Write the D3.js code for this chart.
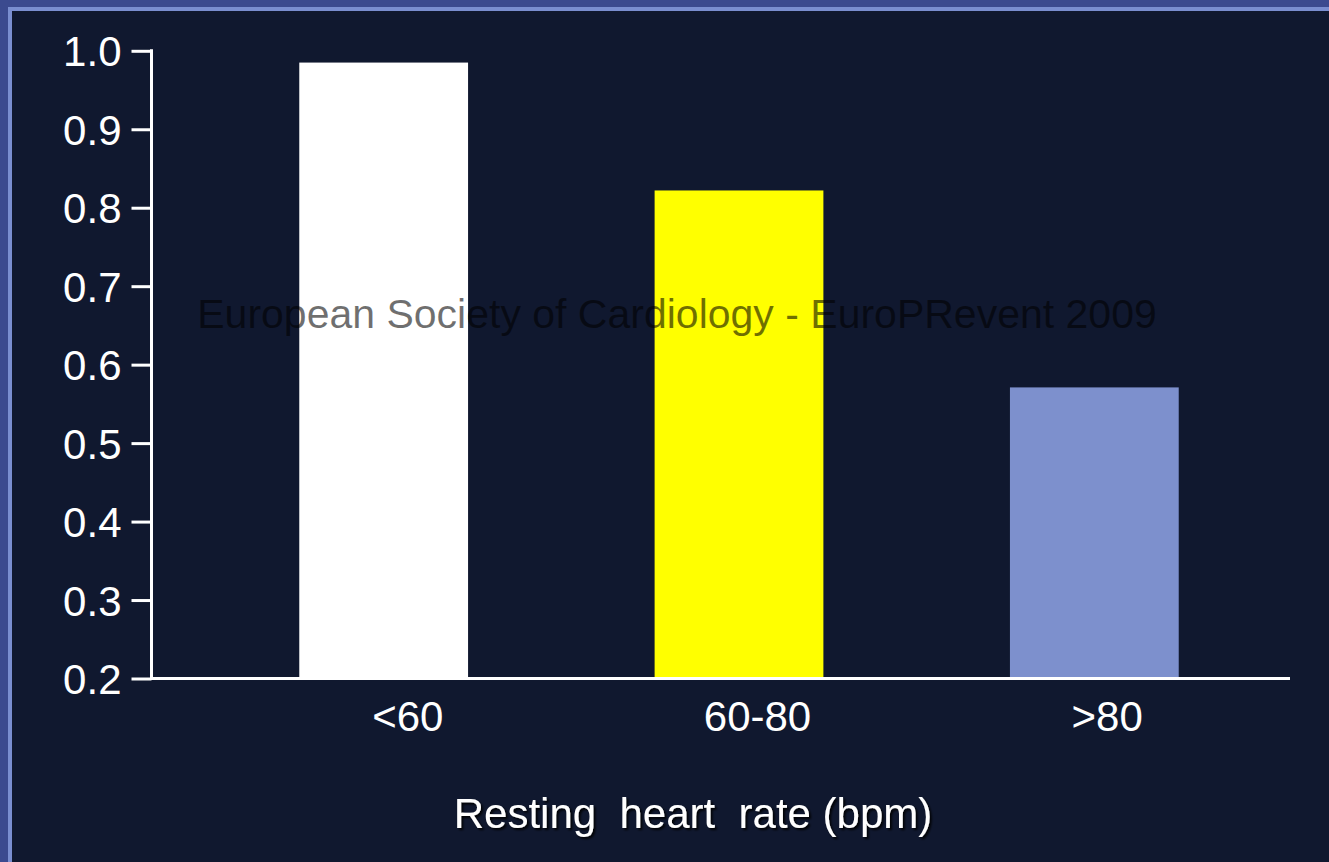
<!DOCTYPE html>
<html>
<head>
<meta charset="utf-8">
<script src="https://cdn.jsdelivr.net/npm/d3@7"></script>
<style>
  html, body { margin: 0; padding: 0; background: #3b4a8f; overflow: hidden; }
  svg { display: block; }
  text { font-family: "Liberation Sans", Arial, sans-serif; }
</style>
</head>
<body>
<script>
// Resting heart rate groups and their plotted values
const categories = ["<60", "60-80", ">80"];
const values = [0.985, 0.822, 0.571];
const barColors = ["#ffffff", "#ffff00", "#7d90cd"];
const yTicks = [0.2, 0.3, 0.4, 0.5, 0.6, 0.7, 0.8, 0.9, 1.0];
const xTitle = "Resting  heart  rate (bpm)";
const watermark = "European Society of Cardiology - EuroPRevent 2009";

const W = 1329, H = 862;
const svg = d3.select("body").append("svg").attr("width", W).attr("height", H);

const defs = svg.append("defs");
const shadow = defs.append("filter").attr("id", "shadow")
  .attr("x", "-10%").attr("y", "-30%").attr("width", "120%").attr("height", "160%");
shadow.append("feDropShadow").attr("dx", 2).attr("dy", 2).attr("stdDeviation", 1)
  .attr("flood-color", "#000000").attr("flood-opacity", 0.9);

// slide frame: outer blue, light inner band, dark panel
svg.append("rect").attr("width", W).attr("height", H).attr("fill", "#3b4a8f");
svg.append("rect").attr("x", 8).attr("y", 7).attr("width", W).attr("height", H).attr("fill", "#7a8ed0");
svg.append("rect").attr("x", 12).attr("y", 11).attr("width", W).attr("height", H).attr("fill", "#10182f");

// scales
const y = d3.scaleLinear().domain([0.2, 1.0]).range([678.5, 50.8]);
const x = d3.scaleBand().domain(categories).range([206, 1272])
  .paddingInner(0.525).paddingOuter(0.2625);
const xLabel = d3.scaleBand().domain(categories).range([233, 1282]);

const axisLeftX = 151.5, axisRightX = 1290;
const fontSize = 42;

// bars
svg.append("g").selectAll("rect").data(values).join("rect")
  .attr("x", (d, i) => x(categories[i]))
  .attr("width", x.bandwidth())
  .attr("y", d => y(d))
  .attr("height", d => y(0.2) - y(d))
  .attr("fill", (d, i) => barColors[i]);

// watermark across the plot
svg.append("text")
  .attr("x", 677).attr("y", 328)
  .attr("text-anchor", "middle")
  .attr("font-size", 41)
  .attr("fill", "#000000").attr("fill-opacity", 0.56)
  .text(watermark);

// y axis
const yAxis = svg.append("g").attr("transform", `translate(${axisLeftX},0)`)
  .call(d3.axisLeft(y).tickValues(yTicks).tickFormat(d3.format(".1f"))
    .tickSize(20).tickPadding(10));
yAxis.select(".domain").remove();
yAxis.append("line").attr("x1", 0).attr("x2", 0)
  .attr("y1", y(1.0) - 1.5).attr("y2", y(0.2) + 1.5)
  .attr("stroke", "#ffffff").attr("stroke-width", 3);
yAxis.selectAll(".tick line").attr("stroke", "#ffffff").attr("stroke-width", 3);
yAxis.selectAll(".tick text").attr("fill", "#ffffff")
  .attr("font-size", fontSize).attr("dy", "0.36em")
  .style("font-family", "'Liberation Sans', Arial, sans-serif");

// x axis baseline
svg.append("line")
  .attr("x1", axisLeftX).attr("x2", axisRightX)
  .attr("y1", y(0.2)).attr("y2", y(0.2))
  .attr("stroke", "#ffffff").attr("stroke-width", 3);

// category labels
const xAxis = svg.append("g").attr("transform", `translate(0,${y(0.2)})`)
  .call(d3.axisBottom(xLabel).tickSize(0).tickPadding(23));
xAxis.select(".domain").remove();
xAxis.selectAll(".tick text").attr("fill", "#ffffff")
  .attr("font-size", fontSize).attr("dy", "0.71em")
  .style("font-family", "'Liberation Sans', Arial, sans-serif");

// axis title
svg.append("text")
  .attr("x", 693).attr("y", 828)
  .attr("text-anchor", "middle")
  .attr("font-size", fontSize)
  .attr("fill", "#ffffff")
  .attr("filter", "url(#shadow)")
  .attr("xml:space", "preserve")
  .style("white-space", "pre")
  .text(xTitle);
</script>
</body>
</html>
